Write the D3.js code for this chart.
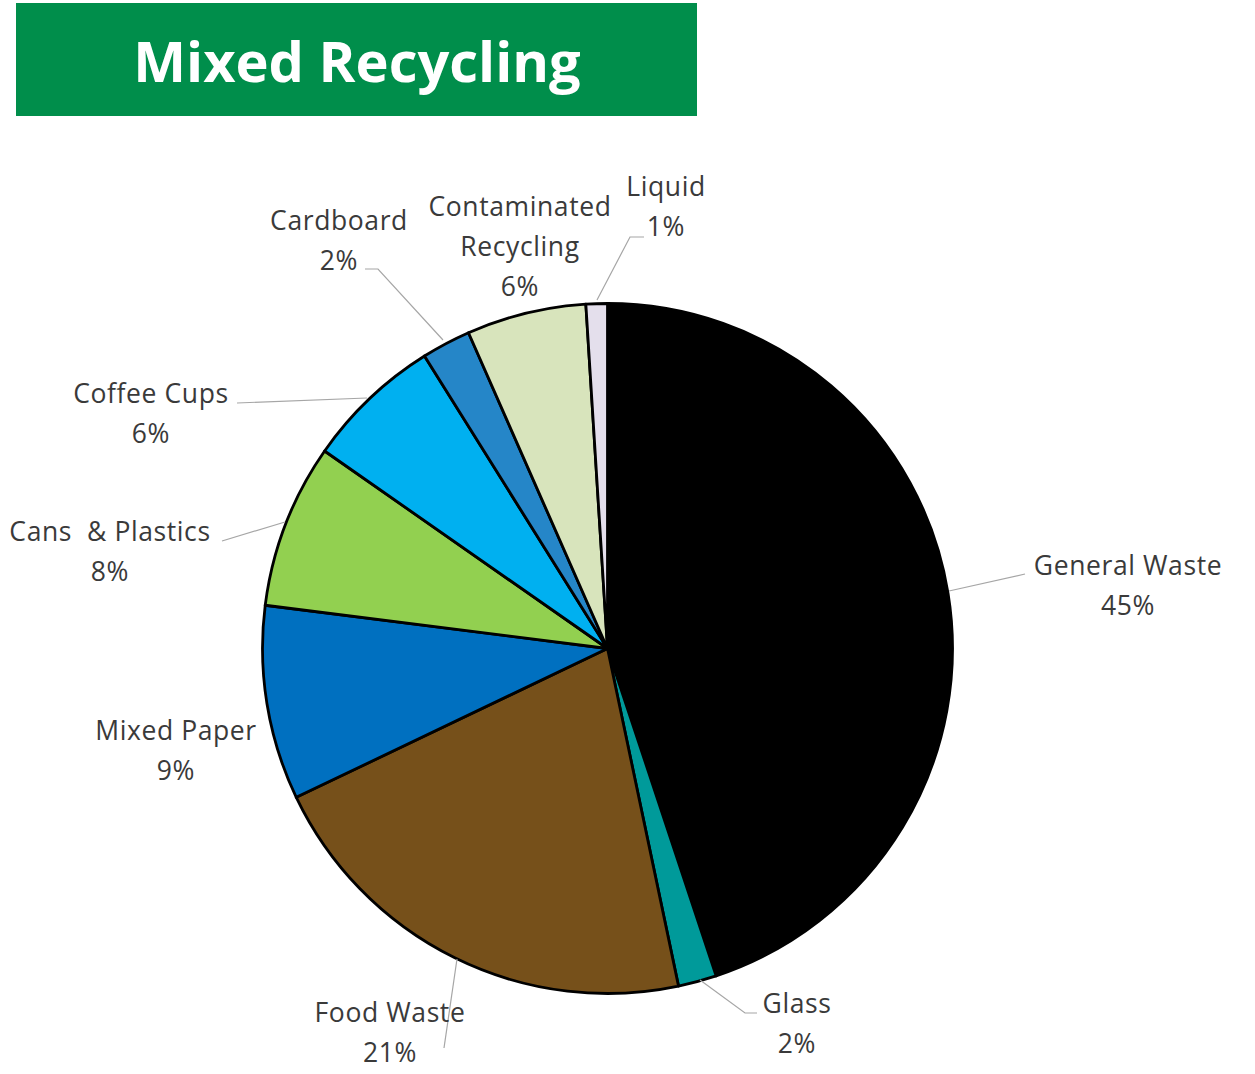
<!DOCTYPE html>
<html><head><meta charset="utf-8">
<script src="https://cdn.jsdelivr.net/npm/d3@7"></script>
<style>html,body{margin:0;padding:0;background:#fff;}svg{display:block;} text{white-space:pre;}</style>
</head><body>
<svg id="chart" width="1255" height="1074"></svg>
<script>
const title = "Mixed Recycling";
const categories = ["General Waste","Glass","Food Waste","Mixed Paper","Cans  & Plastics","Coffee Cups","Cardboard","Contaminated Recycling","Liquid"];
const values = [44.9, 1.8, 21.2, 9.1, 7.7, 6.4, 2.3, 5.6, 1.0];
const colors = ["#000000","#009A9A","#76501A","#0070C0","#92D050","#00B0F0","#2586C8","#D8E4BC","#E4DFEC"];

// label layout (text block centre x, first baseline y, line split, leader polyline)
const labelLayout = [
  {x:1128, y:575, lines:["General Waste"], leader:[[949,591],[1025,574]]},
  {x:797,  y:1013, lines:["Glass"], leader:[[700,980],[745,1013],[757,1013]]},
  {x:390,  y:1022, lines:["Food Waste"], leader:[[457,959],[444,1048]]},
  {x:176,  y:740, lines:["Mixed Paper"], leader:null},
  {x:110,  y:541, lines:["Cans  & Plastics"], leader:[[285,522],[222,541]]},
  {x:151,  y:403, lines:["Coffee Cups"], leader:[[367,398],[237,403]]},
  {x:339,  y:230, lines:["Cardboard"], leader:[[443,340],[378,269],[365,269]]},
  {x:520,  y:216, lines:["Contaminated","Recycling"], leader:null},
  {x:666,  y:196, lines:["Liquid"], leader:[[597,300],[630,237],[644,237]]}
];

const svg = d3.select("#chart");

// title banner
svg.append("rect").attr("x",16).attr("y",3).attr("width",681).attr("height",113).attr("fill","#008E4B");
svg.append("text").attr("x",357).attr("y",82).attr("text-anchor","middle")
  .attr("font-family","'Open Sans', sans-serif").attr("font-weight","bold")
  .attr("font-size",56).attr("fill","#fff").text(title);

const cx = 607.5, cy = 648.5, r = 345;
const total = d3.sum(values);
const pie = d3.pie().sort(null).value(d=>d)(values);
const arc = d3.arc().innerRadius(0).outerRadius(r);

const g = svg.append("g").attr("transform",`translate(${cx},${cy})`);
g.selectAll("path.slice").data(pie).enter().append("path")
  .attr("class","slice").attr("d",arc)
  .attr("fill",(d,i)=>colors[i]).attr("stroke","#000").attr("stroke-width",2.8)
  .attr("stroke-linejoin","round");

// leaders
const line = d3.line();
svg.selectAll("path.leader").data(labelLayout.filter(l=>l.leader)).enter().append("path")
  .attr("class","leader").attr("d",d=>line(d.leader))
  .attr("fill","none").attr("stroke","#A6A6A6").attr("stroke-width",1.2);

// labels
const lh = 40;
labelLayout.forEach((l,i)=>{
  const pct = Math.round(values[i]/total*100) + "%";
  const lines = l.lines.concat([pct]);
  const t = svg.append("text").attr("text-anchor","middle").attr("xml:space","preserve")
    .attr("font-family","'Open Sans', sans-serif").attr("font-size",26.5)
    .attr("letter-spacing",0.6).attr("fill","#3A3A3A");
  lines.forEach((s,k)=>{
    t.append("tspan").attr("x",l.x).attr("y",l.y + k*lh).text(s);
  });
});
</script>
</body></html>
